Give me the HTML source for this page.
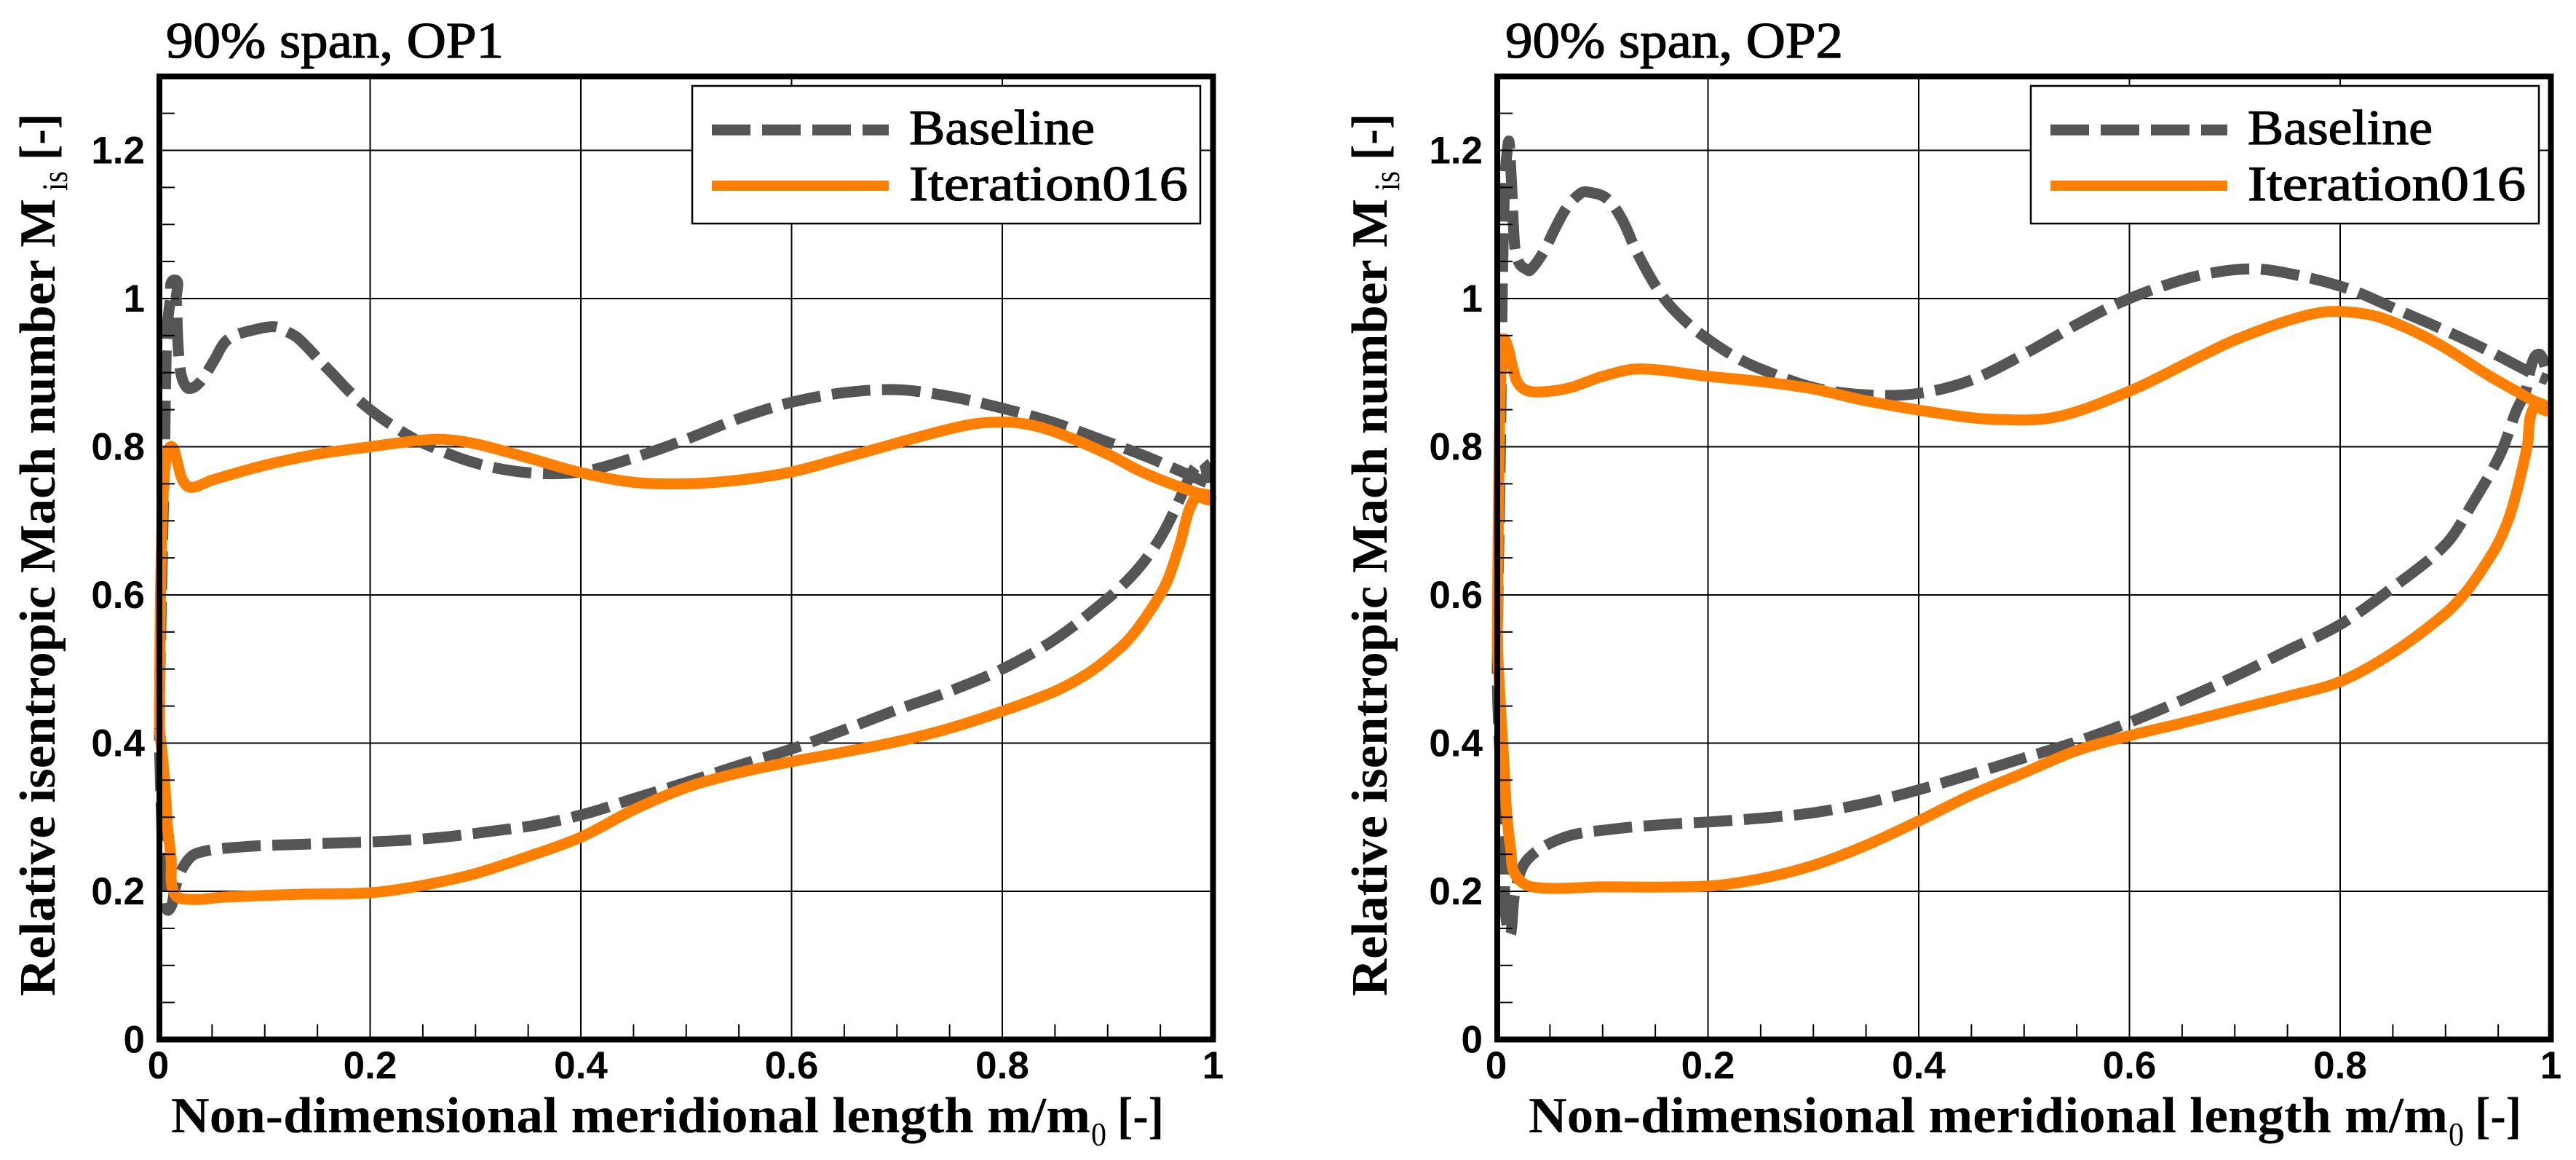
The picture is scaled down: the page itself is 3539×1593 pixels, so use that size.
<!DOCTYPE html>
<html lang="en">
<head>
<meta charset="utf-8">
<title>Relative isentropic Mach number at 90% span</title>
<style>
html,body{margin:0;padding:0;background:#fff;}
svg{display:block;}
.serif{font-family:"Liberation Serif",serif;}
.bold{font-weight:bold;}
.heavy{stroke:#000;stroke-width:1.3px;}
.tick{font-family:"Liberation Sans",sans-serif;font-weight:bold;font-size:53px;}
</style>
</head>
<body>
<svg id="figure" xmlns="http://www.w3.org/2000/svg" width="3539" height="1593" viewBox="0 0 3539 1593">
  <rect x="0" y="0" width="3539" height="1593" fill="#fff"/>

  <g id="panel-op1"></g>
  <g id="panel-op2"></g>

  <g class="serif">
    <text class="heavy" x="228" y="79" font-size="70" textLength="464" lengthAdjust="spacingAndGlyphs">90% span, OP1</text>
    <text class="bold" x="235" y="1555" font-size="70" textLength="1263" lengthAdjust="spacingAndGlyphs">Non-dimensional meridional length m/m</text>
    <text x="1499" y="1573" font-size="45" textLength="21" lengthAdjust="spacingAndGlyphs">0</text>
    <text class="bold" x="1535" y="1555" font-size="70" textLength="64" lengthAdjust="spacingAndGlyphs">[-]</text>
    <g transform="translate(75,1368) rotate(-90)">
      <text class="bold" x="0" y="0" font-size="70" textLength="1095" lengthAdjust="spacingAndGlyphs">Relative isentropic Mach number M</text>
      <text x="1106" y="17" font-size="50" textLength="27" lengthAdjust="spacingAndGlyphs">is</text>
      <text class="bold" x="1148" y="0" font-size="70" textLength="64" lengthAdjust="spacingAndGlyphs">[-]</text>
    </g>
    <g>
      <rect x="951" y="118" width="698" height="189" fill="#fff" stroke="#000" stroke-width="2.5"/>
      <line x1="978" x2="1221" y1="178.5" y2="178.5" stroke="#555" stroke-width="15" stroke-dasharray="53 16"/>
      <line x1="978" x2="1221" y1="255" y2="255" stroke="#ff8000" stroke-width="14"/>
      <text class="heavy" x="1249" y="198" font-size="68" textLength="255" lengthAdjust="spacingAndGlyphs">Baseline</text>
      <text class="heavy" x="1249" y="275" font-size="68" textLength="383" lengthAdjust="spacingAndGlyphs">Iteration016</text>
    </g>
  </g>

  <g class="serif">
    <text class="heavy" x="2068" y="79" font-size="70" textLength="464" lengthAdjust="spacingAndGlyphs">90% span, OP2</text>
    <text class="bold" x="2100" y="1555" font-size="70" textLength="1263" lengthAdjust="spacingAndGlyphs">Non-dimensional meridional length m/m</text>
    <text x="3364" y="1573" font-size="45" textLength="21" lengthAdjust="spacingAndGlyphs">0</text>
    <text class="bold" x="3400" y="1555" font-size="70" textLength="64" lengthAdjust="spacingAndGlyphs">[-]</text>
    <g transform="translate(1905,1368) rotate(-90)">
      <text class="bold" x="0" y="0" font-size="70" textLength="1095" lengthAdjust="spacingAndGlyphs">Relative isentropic Mach number M</text>
      <text x="1106" y="17" font-size="50" textLength="27" lengthAdjust="spacingAndGlyphs">is</text>
      <text class="bold" x="1148" y="0" font-size="70" textLength="64" lengthAdjust="spacingAndGlyphs">[-]</text>
    </g>
    <g>
      <rect x="2790" y="118" width="698" height="189" fill="#fff" stroke="#000" stroke-width="2.5"/>
      <line x1="2817" x2="3060" y1="178.5" y2="178.5" stroke="#555" stroke-width="15" stroke-dasharray="53 16"/>
      <line x1="2817" x2="3060" y1="255" y2="255" stroke="#ff8000" stroke-width="14"/>
      <text class="heavy" x="3088" y="198" font-size="68" textLength="254" lengthAdjust="spacingAndGlyphs">Baseline</text>
      <text class="heavy" x="3088" y="275" font-size="68" textLength="382" lengthAdjust="spacingAndGlyphs">Iteration016</text>
    </g>
  </g>
</svg>

<script>
// ---- Tick values ----
const xMajorTicks = [0, 0.2, 0.4, 0.6, 0.8, 1];
const xTickLabels = ['0', '0.2', '0.4', '0.6', '0.8', '1'];
const xMinorTicks = [0.05, 0.1, 0.15, 0.25, 0.3, 0.35, 0.45, 0.5, 0.55, 0.65, 0.7, 0.75, 0.85, 0.9, 0.95];
const yMajorTicks = [0, 0.2, 0.4, 0.6, 0.8, 1, 1.2];
const yTickLabels = ['0', '0.2', '0.4', '0.6', '0.8', '1', '1.2'];
const yMinorTicks = [0.05, 0.1, 0.15, 0.25, 0.3, 0.35, 0.45, 0.5, 0.55, 0.65, 0.7, 0.75, 0.85, 0.9, 0.95, 1.05, 1.1, 1.15, 1.25];

// ---- OP1 series ----
const baselineOp1X = [0.995,0.993,0.989,0.983,0.977,0.968,0.952,0.935,0.919,0.9,0.85,0.8,0.75,0.7,0.65,0.6,0.55,0.5,0.45,0.408,0.36,0.315,0.269,0.222,0.126,0.079,0.035,0.0226,0.015,0.009,0.005,0.002,0,0.002,0.005,0.007,0.0105,0.0145,0.016,0.018,0.021,0.026,0.0306,0.037,0.044,0.0525,0.0615,0.071,0.0905,0.109,0.12,0.132,0.155,0.164,0.18,0.2,0.225,0.25,0.3,0.35,0.4,0.45,0.5,0.55,0.6,0.65,0.7,0.75,0.8,0.848,0.893,0.938,0.977,0.995];
const baselineOp1Y = [0.751,0.772,0.78,0.772,0.757,0.728,0.682,0.646,0.62,0.595,0.54,0.5,0.47,0.445,0.418,0.392,0.37,0.347,0.325,0.306,0.29,0.281,0.273,0.268,0.263,0.26,0.251,0.233,0.205,0.175,0.19,0.3,0.42,0.6,0.8,0.95,1.0,1.025,1.0,0.93,0.895,0.88,0.879,0.885,0.898,0.918,0.94,0.95,0.958,0.962,0.956,0.946,0.912,0.899,0.875,0.85,0.825,0.805,0.778,0.765,0.766,0.785,0.81,0.838,0.86,0.873,0.877,0.868,0.852,0.833,0.81,0.786,0.762,0.751];
const iterationOp1X = [0,0.001,0.004,0.008,0.012,0.016,0.022,0.03,0.05,0.1,0.15,0.2,0.25,0.27,0.3,0.35,0.4,0.45,0.5,0.55,0.6,0.65,0.7,0.75,0.78,0.816,0.85,0.9,0.931,0.96,0.984,0.998,0.983,0.968,0.956,0.94,0.92,0.9,0.88,0.85,0.8,0.75,0.7,0.65,0.6,0.55,0.5,0.45,0.4,0.35,0.3,0.25,0.2,0.134,0.06,0.033,0.0145,0.011,0.0076,0.0063,0.003,0];
const iterationOp1Y = [0.42,0.6,0.75,0.795,0.8,0.785,0.755,0.745,0.755,0.775,0.79,0.8,0.809,0.81,0.804,0.785,0.765,0.752,0.75,0.755,0.766,0.785,0.805,0.824,0.832,0.832,0.82,0.79,0.767,0.75,0.738,0.73,0.731,0.666,0.617,0.578,0.54,0.514,0.493,0.47,0.443,0.42,0.402,0.388,0.375,0.36,0.34,0.31,0.273,0.247,0.224,0.208,0.198,0.196,0.192,0.189,0.196,0.246,0.289,0.322,0.38,0.42];
const dashAnchorOp1 = 0.0967;

// ---- OP2 series ----
const baselineOp2X = [0.997,0.993,0.988,0.982,0.976,0.967,0.952,0.925,0.9,0.85,0.8,0.75,0.7,0.65,0.6,0.55,0.5,0.45,0.4,0.35,0.3,0.253,0.205,0.1575,0.11,0.064,0.0287,0.017,0.011,0.007,0.002,0,0.003,0.006,0.0104,0.013,0.016,0.018,0.022,0.027,0.031,0.0435,0.055,0.0665,0.079,0.085,0.103,0.118,0.132,0.149,0.163,0.182,0.2,0.225,0.25,0.3,0.35,0.4,0.45,0.5,0.55,0.584,0.622,0.669,0.718,0.764,0.81,0.854,0.898,0.94,0.985,0.997];
const baselineOp2Y = [0.89,0.915,0.925,0.912,0.875,0.848,0.79,0.722,0.668,0.61,0.56,0.525,0.49,0.458,0.428,0.402,0.38,0.358,0.337,0.319,0.306,0.299,0.294,0.29,0.284,0.273,0.243,0.2,0.145,0.25,0.4,0.5,0.8,1.1,1.21,1.17,1.081,1.059,1.045,1.04,1.038,1.062,1.095,1.124,1.142,1.144,1.136,1.108,1.064,1.02,0.992,0.965,0.945,0.922,0.905,0.88,0.87,0.872,0.89,0.925,0.965,0.99,1.012,1.032,1.04,1.03,1.012,0.985,0.958,0.93,0.897,0.89];
const iterationOp2X = [0,0.001,0.003,0.006,0.01,0.015,0.02,0.03,0.05,0.07,0.1,0.135,0.2,0.25,0.3,0.35,0.42,0.47,0.53,0.6,0.666,0.7,0.75,0.786,0.82,0.847,0.893,0.94,0.982,0.997,0.9835,0.9775,0.9628,0.95,0.935,0.92,0.9,0.85,0.8,0.75,0.7,0.65,0.6,0.55,0.5,0.45,0.4,0.35,0.3,0.25,0.2,0.1,0.0325,0.0165,0.0128,0.009,0.006,0.003,0];
const iterationOp2Y = [0.53,0.7,0.88,0.945,0.935,0.905,0.885,0.875,0.875,0.88,0.895,0.905,0.895,0.888,0.878,0.862,0.845,0.837,0.84,0.875,0.921,0.944,0.97,0.982,0.98,0.97,0.939,0.897,0.863,0.85,0.852,0.8,0.715,0.67,0.635,0.605,0.575,0.522,0.483,0.463,0.445,0.427,0.41,0.39,0.36,0.33,0.295,0.262,0.235,0.217,0.207,0.206,0.206,0.224,0.256,0.305,0.38,0.45,0.53];
const dashAnchorOp2 = 0.1285;

// ---- Axis functions ----
const NS = 'http://www.w3.org/2000/svg';
const X_SPAN = 1447.5;
const Y_ZERO = 1427.5;
const Y_UNIT = 1017.5;
const FRAME_TOP = 105;
const MINOR_LEN = 21;
const MAJOR_LEN = 27;
const DASH_ON = 53;
const DASH_OFF = 16;

function makeXScale(left) {
  return function (v) { return left + v * X_SPAN; };
}
function yScale(v) {
  return Y_ZERO - v * Y_UNIT;
}
function create(tag, parent) {
  const el = document.createElementNS(NS, tag);
  parent.appendChild(el);
  return el;
}
function drawLine(parent, x1, y1, x2, y2, width) {
  const el = create('line', parent);
  el.setAttribute('x1', x1);
  el.setAttribute('y1', y1);
  el.setAttribute('x2', x2);
  el.setAttribute('y2', y2);
  el.setAttribute('stroke', '#000');
  el.setAttribute('stroke-width', width);
  return el;
}
function smoothPath(xs, ys, xFn) {
  const pts = xs.map(function (x, i) { return [xFn(x), yScale(ys[i])]; });
  let d = 'M' + pts[0][0].toFixed(2) + ' ' + pts[0][1].toFixed(2);
  function tangent(i) {
    const a = pts[Math.max(i - 1, 0)];
    const b = pts[Math.min(i + 1, pts.length - 1)];
    const dx = b[0] - a[0];
    const dy = b[1] - a[1];
    const len = Math.hypot(dx, dy) || 1;
    return [dx / len, dy / len];
  }
  for (let i = 0; i < pts.length - 1; i++) {
    const p = pts[i];
    const q = pts[i + 1];
    const seg = Math.hypot(q[0] - p[0], q[1] - p[1]) / 3;
    const t0 = tangent(i);
    const t1 = tangent(i + 1);
    d += 'C' + (p[0] + t0[0] * seg).toFixed(2) + ' ' + (p[1] + t0[1] * seg).toFixed(2) + ' ' +
      (q[0] - t1[0] * seg).toFixed(2) + ' ' + (q[1] - t1[1] * seg).toFixed(2) + ' ' +
      q[0].toFixed(2) + ' ' + q[1].toFixed(2);
  }
  return d;
}
function alignDash(pathEl, targetX) {
  const total = pathEl.getTotalLength();
  const period = DASH_ON + DASH_OFF;
  for (let s = 0; s < total; s += 1) {
    if (pathEl.getPointAtLength(s).x <= targetX) {
      pathEl.setAttribute('stroke-dashoffset', (period - (s % period)).toFixed(2));
      return;
    }
  }
}

function drawPanel(groupId, left, tag, baselineX, baselineY, iterationX, iterationY, yLabelRight, dashAnchor) {
  const root = document.getElementById(groupId);
  const xScale = makeXScale(left);
  const right = xScale(1);

  // grid lines
  const gridGroup = create('g', root);
  
  
  xMajorTicks.slice(1, -1).forEach(function (v) {
    const el = drawLine(gridGroup, xScale(v), FRAME_TOP, xScale(v), Y_ZERO, 2);
    
    
  });
  yMajorTicks.slice(1).forEach(function (v) {
    const el = drawLine(gridGroup, left, yScale(v), right, yScale(v), 2);
    
    
  });

  // series
  const base = create('path', root);
  
  
  base.setAttribute('d', smoothPath(baselineX, baselineY, xScale));
  base.setAttribute('fill', 'none');
  base.setAttribute('stroke', '#555555');
  base.setAttribute('stroke-width', '15');
  base.setAttribute('stroke-dasharray', DASH_ON + ' ' + DASH_OFF);
  base.setAttribute('stroke-linejoin', 'bevel');
  alignDash(base, xScale(dashAnchor));

  const iter = create('path', root);
  
  
  iter.setAttribute('d', smoothPath(iterationX, iterationY, xScale));
  iter.setAttribute('fill', 'none');
  iter.setAttribute('stroke', '#ff8000');
  iter.setAttribute('stroke-width', '15');
  iter.setAttribute('stroke-linejoin', 'bevel');

  // ticks
  const tickGroup = create('g', root);
  
  
  yMinorTicks.forEach(function (v) {
    const el = drawLine(tickGroup, left, yScale(v), left + MINOR_LEN, yScale(v), 2);
    
    
  });
  xMinorTicks.forEach(function (v) {
    const el = drawLine(tickGroup, xScale(v), Y_ZERO, xScale(v), Y_ZERO - MINOR_LEN, 2);
    
    
  });
  yMajorTicks.slice(1).forEach(function (v) {
    const el = drawLine(tickGroup, left, yScale(v), left + MAJOR_LEN, yScale(v), 2);
    
    
  });

  // frame
  const frame = create('rect', root);
  
  
  frame.setAttribute('x', left);
  frame.setAttribute('y', FRAME_TOP);
  frame.setAttribute('width', X_SPAN);
  frame.setAttribute('height', Y_ZERO - FRAME_TOP);
  frame.setAttribute('fill', 'none');
  frame.setAttribute('stroke', '#000');
  frame.setAttribute('stroke-width', '8');

  // tick labels
  xMajorTicks.forEach(function (v, i) {
    const t = create('text', root);
    
    
    t.setAttribute('class', 'tick');
    t.setAttribute('x', xScale(v) - (v === 0 ? 1.5 : 0));
    t.setAttribute('y', 1481);
    t.setAttribute('text-anchor', 'middle');
    t.textContent = xTickLabels[i];
  });
  yMajorTicks.forEach(function (v, i) {
    const t = create('text', root);
    
    
    t.setAttribute('class', 'tick');
    t.setAttribute('x', yLabelRight);
    t.setAttribute('y', yScale(v) + 18);
    t.setAttribute('text-anchor', 'end');
    t.textContent = yTickLabels[i];
  });
}

drawPanel('panel-op1', 219, 'op1', baselineOp1X, baselineOp1Y, iterationOp1X, iterationOp1Y, 199, dashAnchorOp1);
drawPanel('panel-op2', 2057, 'op2', baselineOp2X, baselineOp2Y, iterationOp2X, iterationOp2Y, 2037, dashAnchorOp2);
</script>
</body>
</html>
